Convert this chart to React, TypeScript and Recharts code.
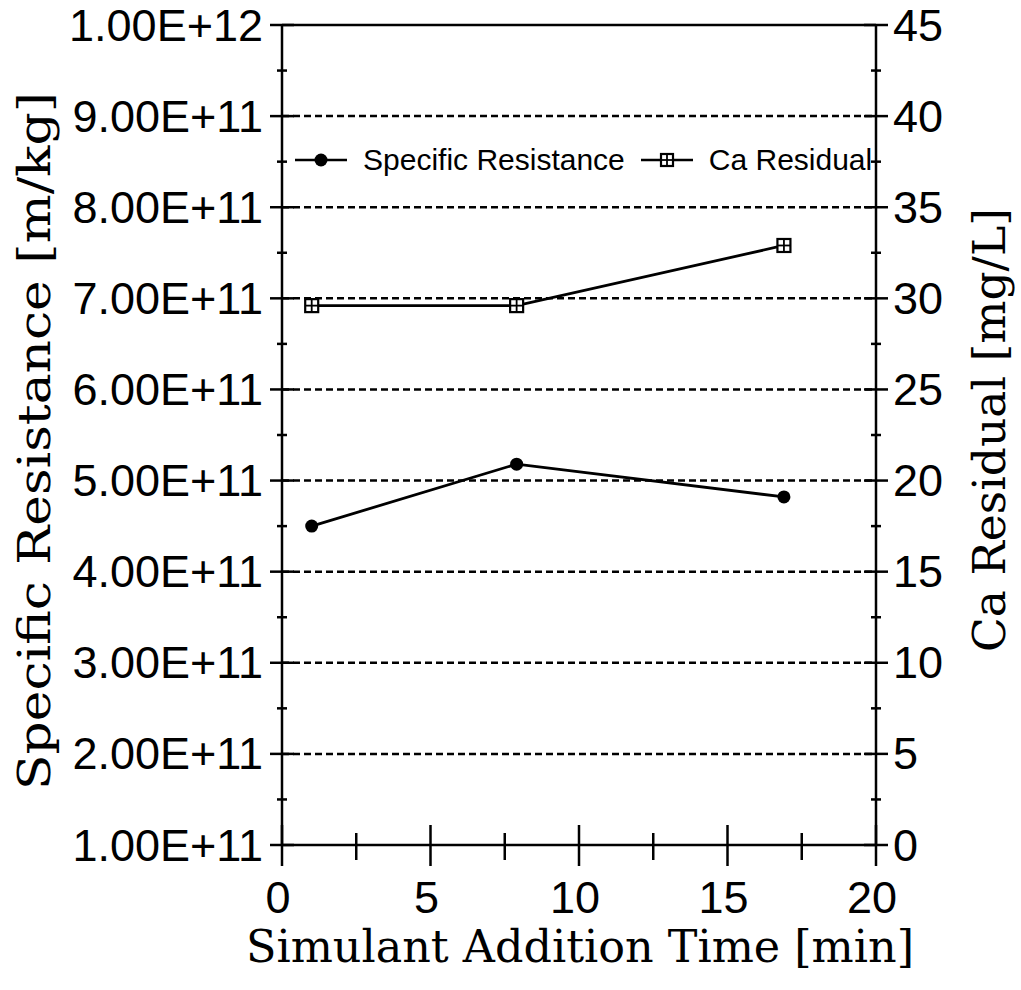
import {
  LineChart,
  Line,
  XAxis,
  YAxis,
  ReferenceLine,
  Legend,
} from "recharts";

// ─── Data ────────────────────────────────────────────────────────────────────

const TIME = [1, 7.9, 16.9]; // min
const SPECIFIC_RESISTANCE = [4.5e11, 5.18e11, 4.82e11]; // m/kg
const CA_RESIDUAL = [29.6, 29.6, 32.9]; // mg/L

const X_MAJOR = [0, 5, 10, 15, 20];
const X_MINOR = [2.5, 7.5, 12.5, 17.5];
const LEFT_MAJOR = [1e11, 2e11, 3e11, 4e11, 5e11, 6e11, 7e11, 8e11, 9e11, 1e12];
const LEFT_MINOR = [1.5e11, 2.5e11, 3.5e11, 4.5e11, 5.5e11, 6.5e11, 7.5e11, 8.5e11, 9.5e11];
const RIGHT_MAJOR = [0, 5, 10, 15, 20, 25, 30, 35, 40, 45];
const RIGHT_MINOR = [2.5, 7.5, 12.5, 17.5, 22.5, 27.5, 32.5, 37.5, 42.5];
const GRID_VALUES = [2e11, 3e11, 4e11, 5e11, 6e11, 7e11, 8e11, 9e11];

const SERIES = [
  { key: "sr", name: "Specific Resistance" },
  { key: "ca", name: "Ca Residual" },
];

const X_TITLE = "Simulant Addition Time [min]";
const LEFT_TITLE = "Specific Resistance [m/kg]";
const RIGHT_TITLE = "Ca Residual [mg/L]";

const data = TIME.map((t, i) => ({
  x: t,
  sr: SPECIFIC_RESISTANCE[i],
  ca: CA_RESIDUAL[i],
}));

// ─── Styles ──────────────────────────────────────────────────────────────────

const SANS = "'Liberation Sans', Arial, sans-serif";
const SERIF = "'DejaVu Serif', serif";
const INK = "#000";

// ─── Ticks ───────────────────────────────────────────────────────────────────

function BottomTick({ x, y, payload }: any) {
  const major = X_MAJOR.includes(payload.value);
  return (
    <g>
      <line
        x1={x}
        x2={x}
        y1={y - (major ? 20 : 12)}
        y2={y + (major ? 21 : 15)}
        stroke={INK}
        strokeWidth={2.5}
      />
      {major && (
        <text
          x={x - 4}
          y={y + 52}
          textAnchor="middle"
          dominantBaseline="central"
          fontFamily={SANS}
          fontSize={45}
          fill={INK}
        >
          {payload.value}
        </text>
      )}
    </g>
  );
}

function LeftTick({ x, y, payload }: any) {
  const major = LEFT_MAJOR.includes(payload.value);
  return (
    <g>
      <line
        x1={x - (major ? 12 : 5)}
        x2={x + (major ? 12 : 5)}
        y1={y}
        y2={y}
        stroke={INK}
        strokeWidth={2.5}
      />
      {major && (
        <text
          x={x - 19}
          y={y}
          textAnchor="end"
          dominantBaseline="central"
          fontFamily={SANS}
          fontSize={45}
          fill={INK}
        >
          {Number(payload.value).toExponential(2).toUpperCase()}
        </text>
      )}
    </g>
  );
}

function RightTick({ x, y, payload }: any) {
  const major = RIGHT_MAJOR.includes(payload.value);
  return (
    <g>
      <line
        x1={x - (major ? 12 : 5)}
        x2={x + (major ? 12 : 5)}
        y1={y}
        y2={y}
        stroke={INK}
        strokeWidth={2.5}
      />
      {major && (
        <text
          x={x + 17}
          y={y}
          textAnchor="start"
          dominantBaseline="central"
          fontFamily={SANS}
          fontSize={45}
          fill={INK}
        >
          {payload.value}
        </text>
      )}
    </g>
  );
}

// ─── Markers ─────────────────────────────────────────────────────────────────

function RoundDot({ cx, cy }: any) {
  if (cx == null || cy == null) return null;
  return <circle cx={cx} cy={cy} r={6.5} fill={INK} />;
}

function SquareDot({ cx, cy, size = 13 }: any) {
  if (cx == null || cy == null) return null;
  const h = size / 2;
  return (
    <g>
      <rect
        x={cx - h}
        y={cy - h}
        width={size}
        height={size}
        fill="#fff"
        stroke={INK}
        strokeWidth={2.2}
      />
      <line x1={cx} x2={cx} y1={cy - h} y2={cy + h} stroke={INK} strokeWidth={1.8} />
      <line x1={cx - h} x2={cx + h} y1={cy} y2={cy} stroke={INK} strokeWidth={1.8} />
    </g>
  );
}

// ─── Legend ──────────────────────────────────────────────────────────────────

function LegendIcon({ kind }: { kind: string }) {
  return (
    <svg width={52} height={20} style={{ display: "block" }}>
      <line x1={0} x2={52} y1={10} y2={10} stroke={INK} strokeWidth={2.5} />
      {kind === "sr" ? (
        <RoundDot cx={26} cy={10} />
      ) : (
        <SquareDot cx={26} cy={10} size={12} />
      )}
    </svg>
  );
}

function ChartLegend() {
  return (
    <div
      style={{
        display: "flex",
        alignItems: "center",
        fontFamily: SANS,
        fontSize: 30,
        lineHeight: "34px",
        whiteSpace: "nowrap",
      }}
    >
      {SERIES.map((s, i) => (
        <div
          key={s.key}
          style={{
            display: "flex",
            alignItems: "center",
            marginLeft: i === 0 ? 0 : 16,
          }}
        >
          <LegendIcon kind={s.key} />
          <span style={{ marginLeft: 16 }}>{s.name}</span>
        </div>
      ))}
    </div>
  );
}

// ─── Axis titles (overlay) ───────────────────────────────────────────────────

function AxisTitles() {
  return (
    <svg
      width={1021}
      height={990}
      style={{ position: "absolute", left: 0, top: 0, pointerEvents: "none" }}
    >
      <text
        x={580}
        y={962}
        textAnchor="middle"
        fontFamily={SERIF}
        fontSize={44}
        textLength={668}
        lengthAdjust="spacingAndGlyphs"
        fill={INK}
      >
        {X_TITLE}
      </text>
      <text
        x={50}
        y={441}
        transform="rotate(-90 50 441)"
        textAnchor="middle"
        fontFamily={SERIF}
        fontSize={44}
        textLength={698}
        lengthAdjust="spacingAndGlyphs"
        fill={INK}
      >
        {LEFT_TITLE}
      </text>
      <text
        x={1005}
        y={430}
        transform="rotate(-90 1005 430)"
        textAnchor="middle"
        fontFamily={SERIF}
        fontSize={44}
        textLength={444}
        lengthAdjust="spacingAndGlyphs"
        fill={INK}
      >
        {RIGHT_TITLE}
      </text>
    </svg>
  );
}

// ─── Component ───────────────────────────────────────────────────────────────

export default function App() {
  return (
    <div style={{ position: "relative", width: 1021, height: 990, background: "#fff" }}>
      <style>{"body{margin:0}"}</style>
      <LineChart
        width={1021}
        height={990}
        data={data}
        margin={{ top: 25, right: 0, bottom: 0, left: 0 }}
      >
        <XAxis
          dataKey="x"
          type="number"
          domain={[0, 20]}
          ticks={[...X_MAJOR, ...X_MINOR].sort((a, b) => a - b)}
          interval={0}
          height={145}
          tickSize={0}
          tickMargin={0}
          tickLine={false}
          axisLine={{ stroke: INK, strokeWidth: 2.5 }}
          tick={<BottomTick />}
        />
        <YAxis
          yAxisId="left"
          domain={[1e11, 1e12]}
          ticks={[...LEFT_MAJOR, ...LEFT_MINOR].sort((a, b) => a - b)}
          interval={0}
          width={282}
          tickSize={0}
          tickMargin={0}
          tickLine={false}
          axisLine={{ stroke: INK, strokeWidth: 2.5 }}
          tick={<LeftTick />}
        />
        <YAxis
          yAxisId="right"
          orientation="right"
          domain={[0, 45]}
          ticks={[...RIGHT_MAJOR, ...RIGHT_MINOR].sort((a, b) => a - b)}
          interval={0}
          width={145}
          tickSize={0}
          tickMargin={0}
          tickLine={false}
          axisLine={{ stroke: INK, strokeWidth: 2.5 }}
          tick={<RightTick />}
        />

        {GRID_VALUES.map((v) => (
          <ReferenceLine
            key={v}
            yAxisId="left"
            y={v}
            stroke={INK}
            strokeWidth={2.5}
            strokeDasharray="7 4"
          />
        ))}
        <ReferenceLine yAxisId="left" y={1e12} stroke={INK} strokeWidth={2.5} />

        <Legend
          layout="horizontal"
          verticalAlign="middle"
          align="center"
          content={<ChartLegend />}
          wrapperStyle={{
            position: "absolute",
            top: 143,
            left: 295,
            width: "auto",
            height: "auto",
          }}
        />

        <Line
          yAxisId="left"
          dataKey="sr"
          name={SERIES[0].name}
          stroke={INK}
          strokeWidth={2.8}
          dot={(p: any) => <RoundDot key={`sr-${p.index}`} {...p} />}
          activeDot={false}
          isAnimationActive={false}
        />
        <Line
          yAxisId="right"
          dataKey="ca"
          name={SERIES[1].name}
          stroke={INK}
          strokeWidth={2.8}
          dot={(p: any) => <SquareDot key={`ca-${p.index}`} cx={p.cx} cy={p.cy} />}
          activeDot={false}
          isAnimationActive={false}
        />
      </LineChart>
      <AxisTitles />
    </div>
  );
}
